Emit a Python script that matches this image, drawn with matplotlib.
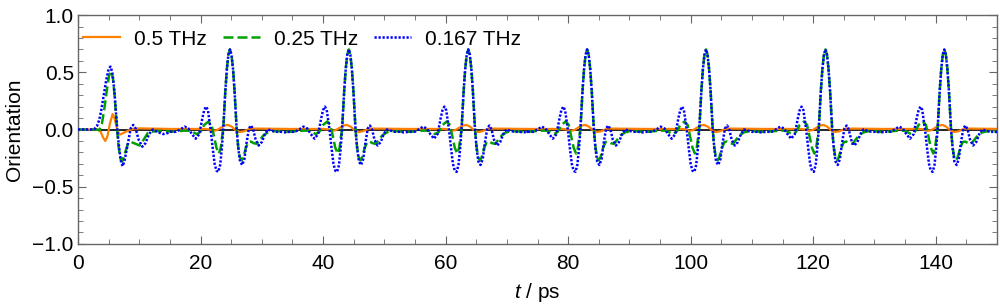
import numpy as np
import matplotlib
matplotlib.use("Agg")
import matplotlib.pyplot as plt
from matplotlib.ticker import MultipleLocator

plt.rcParams['font.family'] = ['Liberation Sans', 'DejaVu Sans']
plt.rcParams['mathtext.fontset'] = 'custom'
plt.rcParams['mathtext.it'] = 'Liberation Sans:italic'
plt.rcParams['mathtext.rm'] = 'Liberation Sans'

# revival times (ps)
revival_times = [24.8, 44.2, 63.7, 83.1, 102.5, 122.0, 141.4]

# ---- initial pulse (absolute time, ps) ----
t_init_blue = [0, 2.0, 2.7, 3.1, 3.5, 3.8, 4.2, 4.6, 5.0, 5.3, 5.6, 5.95, 6.25, 6.5, 6.8,
               7.05, 7.3, 7.6, 8.15, 8.6, 9.0, 9.4, 9.9, 10.5, 11.0, 11.6, 12.2, 12.9,
               13.9, 14.7, 15.1]
y_init_blue = [0, 0, 0.005, 0.03, 0.09, 0.17, 0.30, 0.43, 0.53, 0.55, 0.50, 0.33, 0.11,
               -0.05, -0.20, -0.29, -0.32, -0.27, -0.12, 0.01, 0.04, 0.01, -0.09, -0.15,
               -0.12, -0.04, 0.0, -0.02, -0.04, -0.03, -0.02]

t_init_green = [0, 3.0, 3.5, 3.9, 4.35, 4.8, 5.1, 5.4, 5.7, 6.0, 6.3, 6.6, 6.9, 7.2, 7.6,
                8.1, 8.7, 9.4, 10.05, 10.7, 11.4, 12.5, 14.1, 15.1]
y_init_green = [0, 0, -0.005, 0.05, 0.20, 0.38, 0.48, 0.51, 0.45, 0.28, 0.05, -0.14,
                -0.25, -0.28, -0.22, -0.13, -0.11, -0.125, -0.14, -0.09, -0.03, -0.015,
                -0.01, -0.02]

t_init_orange = [0, 3.2, 3.7, 4.1, 4.45, 4.8, 5.2, 5.65, 6.0, 6.4, 6.8, 7.4, 8.2, 9.0,
                 10.0, 12.0, 15.1]
y_init_orange = [0, 0, -0.02, -0.07, -0.10, -0.06, 0.05, 0.135, 0.09, 0.0, -0.045,
                 -0.03, -0.01, 0.005, 0.01, 0.008, 0.005]

# ---- shape of one revival (time relative to revival peak, ps) ----
dt_blue = [-9.7, -8.8, -8.1, -7.4, -6.8, -6.2, -5.6, -5.0, -4.5, -4.2, -3.9, -3.6, -3.15,
           -2.8, -2.5, -2.2, -1.9, -1.6, -1.35, -1.1, -0.75, -0.5, -0.25, 0.0, 0.25, 0.5,
           0.75, 1.1, 1.35, 1.65, 2.0, 2.35, 2.7, 3.1, 3.45, 3.8, 4.2, 4.7, 5.2, 5.7, 6.2,
           6.8, 7.5, 8.3, 9.0, 9.7]
v_blue = [-0.02, -0.02, 0.0, 0.025, 0.01, -0.04, -0.08, -0.04, 0.10, 0.17, 0.20, 0.17,
          0.0, -0.17, -0.30, -0.36, -0.37, -0.31, -0.18, 0.0, 0.34, 0.53, 0.655, 0.70,
          0.655, 0.53, 0.34, 0.0, -0.16, -0.28, -0.31, -0.26, -0.12, 0.01, 0.035, 0.0,
          -0.09, -0.14, -0.11, -0.04, 0.0, -0.01, -0.02, -0.02, -0.025, -0.02]

dt_green = [-9.7, -8.5, -7.5, -6.5, -5.4, -4.8, -4.2, -3.5, -3.0, -2.6, -2.2, -1.8, -1.5,
            -1.3, -1.1, -0.75, -0.5, -0.25, 0.0, 0.25, 0.5, 0.75, 1.1, 1.35, 1.6, 1.9,
            2.2, 2.6, 3.0, 3.4, 3.9, 4.4, 4.9, 5.5, 6.2, 7.0, 8.0, 9.0, 9.7]
v_green = [-0.02, -0.015, -0.01, -0.01, -0.04, -0.02, 0.04, 0.07, 0.04, -0.06, -0.16,
           -0.21, -0.16, -0.07, 0.0, 0.34, 0.53, 0.655, 0.70, 0.655, 0.53, 0.34, 0.0,
           -0.15, -0.24, -0.27, -0.24, -0.16, -0.11, -0.105, -0.12, -0.125, -0.09,
           -0.05, -0.025, -0.015, -0.015, -0.02, -0.02]

dt_orange = [-9.7, -4.0, -3.3, -2.7, -2.1, -1.5, -0.9, -0.3, 0.3, 0.9, 1.6, 2.3, 3.3,
             4.5, 9.7]
v_orange = [0.005, 0.005, 0.0, -0.012, -0.005, 0.015, 0.035, 0.04, 0.025, -0.005,
            -0.022, -0.015, 0.008, 0.008, 0.005]


def build(t0, y0, dt, v):
    t = list(t0)
    y = list(y0)
    for T in revival_times:
        t += [T + d for d in dt]
        y += list(v)
    return np.array(t), np.array(y)


t_o, y_o = build(t_init_orange, y_init_orange, dt_orange, v_orange)
t_g, y_g = build(t_init_green, y_init_green, dt_green, v_green)
t_b, y_b = build(t_init_blue, y_init_blue, dt_blue, v_blue)

fig = plt.figure(figsize=(10, 3.08), dpi=100)
ax = fig.add_axes([0.078, 0.208, 0.919, 0.743])

ax.axhline(0, color='black', lw=1.2, zorder=1)
ax.plot(t_o, y_o, color='#ff8000', lw=1.6, label='0.5 THz', zorder=2)
ax.plot(t_g, y_g, color='#00a000', lw=1.8, ls=(0, (4, 1.6)), label='0.25 THz', zorder=3)
ax.plot(t_b, y_b, color='#0000ff', lw=1.8, ls=(0, (0.9, 0.7)), label='0.167 THz', zorder=4)

ax.set_xlim(0, 150)
ax.set_ylim(-1, 1)
ax.xaxis.set_major_locator(MultipleLocator(20))
ax.xaxis.set_minor_locator(MultipleLocator(5))
ax.yaxis.set_major_locator(MultipleLocator(0.5))
ax.yaxis.set_minor_locator(MultipleLocator(0.1))
ax.set_yticklabels([f'{v:.1f}'.replace('-', '\u2212') for v in ax.get_yticks()])

for s in ax.spines.values():
    s.set_color('#666666')
    s.set_linewidth(1.0)
ax.tick_params(which='both', direction='in', top=True, right=True, color='#666666',
               labelsize=15)
ax.tick_params(axis='y', pad=3)
ax.tick_params(axis='x', pad=7)
ax.tick_params(which='major', length=6)
ax.tick_params(which='minor', length=3.5)

ax.set_xlabel(r'$t$ / ps', fontsize=15, labelpad=6)
ax.set_ylabel('Orientation', fontsize=15, labelpad=6)

ax.legend(loc='upper left', bbox_to_anchor=(-0.0103, 1.0), ncol=3, frameon=False,
          fontsize=15, handlelength=1.78, handletextpad=0.67, columnspacing=0.77,
          borderaxespad=0.3)

fig.savefig('out.png', dpi=100)
